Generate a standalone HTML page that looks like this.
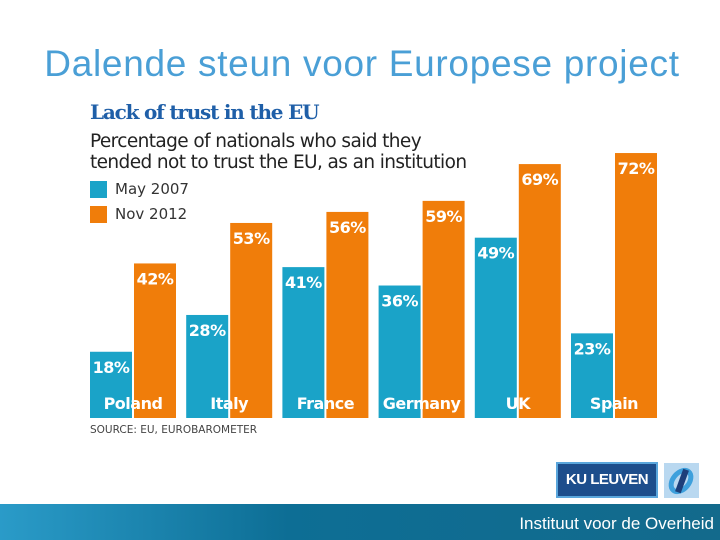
<!DOCTYPE html>
<html><head><meta charset="utf-8"><style>
body{margin:0;width:720px;height:540px;background:#fff;position:relative;overflow:hidden;font-family:"Liberation Sans",sans-serif}
.t{position:absolute;white-space:nowrap}
</style></head><body>
<div class="t" style="left:0;width:724px;text-align:center;top:43px;font-size:37px;letter-spacing:0.7px;color:#4a9fd6">Dalende steun voor Europese project</div>
<div class="t" style="left:90px;top:100px;font-size:20px;font-weight:bold;color:#1f5fa8;font-family:'DejaVu Serif',serif;letter-spacing:-1.2px">Lack of trust in the EU</div>
<div class="t" style="left:90px;top:131px;font-size:18.5px;line-height:21px;color:#222;font-family:'DejaVu Sans',sans-serif;letter-spacing:-0.6px">Percentage of nationals who said they<br>tended not to trust the EU, as an institution</div>
<div class="t" style="left:90px;top:180px;font-size:15px;color:#333;font-family:'DejaVu Sans',sans-serif"><span style="display:inline-block;width:17px;height:17px;background:#1aa3c8;vertical-align:middle;margin-right:8px"></span>May 2007</div>
<div class="t" style="left:90px;top:205px;font-size:15px;color:#333;font-family:'DejaVu Sans',sans-serif"><span style="display:inline-block;width:17px;height:17px;background:#f07d0a;vertical-align:middle;margin-right:8px"></span>Nov 2012</div>
<svg width="720" height="540" style="position:absolute;left:0;top:0" id="chart"></svg>
<div class="t" style="left:90px;top:424px;font-size:10.5px;color:#444;font-family:'DejaVu Sans',sans-serif">SOURCE: EU, EUROBAROMETER</div>
<div style="position:absolute;left:556px;top:462px;width:102px;height:36px;background:#1d4e8c;border:2px solid #5aa6dc;box-sizing:border-box;color:#fff;font-weight:bold;font-size:15px;text-align:center;line-height:32px;letter-spacing:-0.5px">KU LEUVEN</div>
<div style="position:absolute;left:664px;top:463px;width:35px;height:35px;background:#b9d8f0"><svg width="35" height="35"><ellipse cx="17" cy="18" rx="12" ry="8" fill="none" stroke="#3ea0dc" stroke-width="5" transform="rotate(-50 17 18)"/><rect x="15" y="6" width="6" height="24" fill="#1d3f7a" transform="rotate(20 18 18)"/></svg></div>
<div style="position:absolute;left:0;top:504px;width:720px;height:36px;background:linear-gradient(90deg,#2a9bc8,#0d6e95 40%,#136a8c)"></div>
<div class="t" style="right:6px;top:514px;font-size:17px;color:#fff">Instituut voor de Overheid</div>
<script>
const countries=["Poland","Italy","France","Germany","UK","Spain"];
const may2007=[18,28,41,36,49,23];
const nov2012=[42,53,56,59,69,72];
const svg=document.getElementById('chart');
const NS='http://www.w3.org/2000/svg';
const base=418, scale=3.68, x0=90, pitch=96.2, bw=42;
function y(v){return base-v*scale;}
function gx(i){return x0+i*pitch;}
function add(tag,attrs,txt){const e=document.createElementNS(NS,tag);for(const k in attrs)e.setAttribute(k,attrs[k]);if(txt!==undefined)e.textContent=txt;svg.appendChild(e);return e;}
countries.forEach((c,i)=>{
  [[may2007[i],'#1aa3c8',0,'may'],[nov2012[i],'#f07d0a',bw+2,'nov']].forEach(([v,col,off,s])=>{
    const r=add('rect',{x:gx(i)+off,y:y(v),width:bw,height:v*scale,fill:col});
    
    
    const t=add('text',{x:gx(i)+off+bw/2,y:y(v)+21,'text-anchor':'middle',fill:'#fff','font-size':16,'font-weight':'bold','font-family':'DejaVu Sans,sans-serif','letter-spacing':'-0.5'},v+'%');
    
    
  });
  const l=add('text',{x:gx(i)+bw+1,y:409,'text-anchor':'middle',fill:'#fff','font-size':16,'font-weight':'bold','font-family':'DejaVu Sans,sans-serif','letter-spacing':'-0.5'},c);
  
  
});
</script>
</body></html>
